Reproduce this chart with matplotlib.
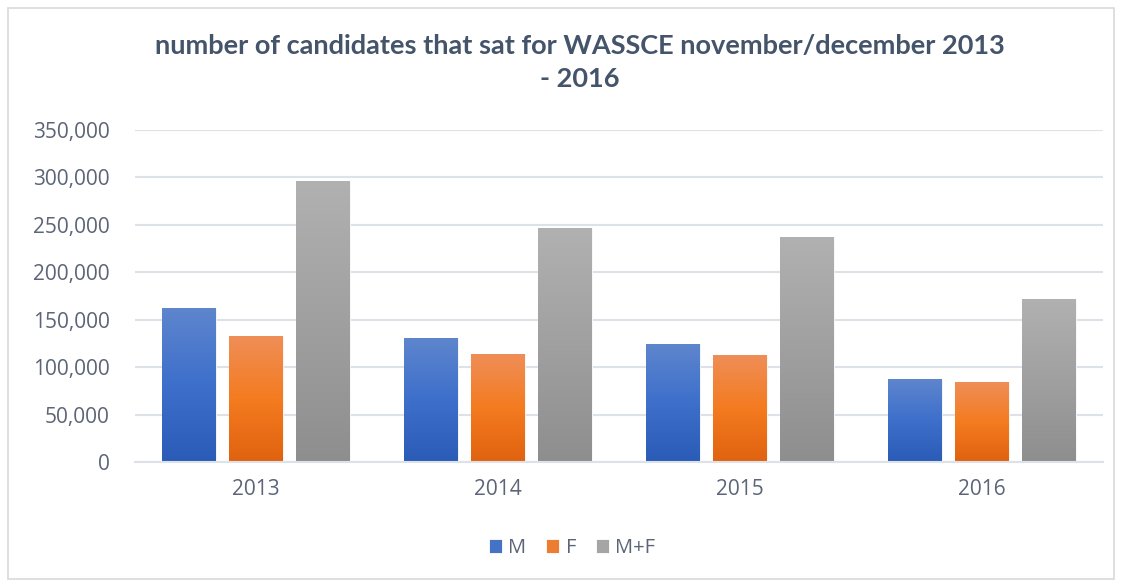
import matplotlib as mpl
mpl.use('Agg')

import matplotlib.pyplot as plt
from matplotlib.colors import LinearSegmentedColormap
from matplotlib.patches import Rectangle
from matplotlib.ticker import FuncFormatter
import numpy


# %% data
years = ['2013', '2014', '2015', '2016']
series_names = ['M', 'F', 'M+F']
male   = [162600, 131000, 124700, 87800]
female = [132800, 113500, 112400, 84000]
total  = [296500, 246300, 237500, 172100]

title = 'number of candidates that sat for WASSCE november/december 2013\n- 2016'

# %% style
colors = ['#4472C4', '#ED7D31', '#A5A5A5']
grads = [['#2A5BB7', '#3D6FCB', '#5F86CD'],
         ['#E0620F', '#F47B20', '#EF8E57'],
         ['#8E8E8E', '#A0A0A0', '#B1B1B1']]
text_col = '#5B6577'
grid_col = '#DDE1E8'

plt.rcParams['font.family'] = ['Open Sans', 'DejaVu Sans']

fig = plt.figure(figsize=(11.22, 5.82), dpi=100)
ax = fig.add_axes([0.1203, 0.2062, 0.8627, 0.5704])

x = numpy.arange(len(years))
width = 0.223
step = 0.276

gradient = numpy.linspace(0, 1, 256).reshape(-1, 1)

for i, vals in enumerate([male, female, total]):
    bars = ax.bar(x + (i - 1) * step, vals, width, color=colors[i],
                  edgecolor='white', linewidth=0.6, label=series_names[i], zorder=2)
    cmap = LinearSegmentedColormap.from_list('g%d' % i, grads[i])
    for b in bars:
        x0, y0 = b.get_x(), b.get_y()
        im = ax.imshow(gradient, cmap=cmap, aspect='auto', origin='lower',
                       extent=[x0, x0 + b.get_width(), y0, y0 + b.get_height()],
                       zorder=2.5)
        im.set_clip_path(b)

ax.set_xlim(-0.5, len(years) - 0.5)
ax.set_ylim(0, 350000)
ax.set_xticks(x)
ax.set_xticklabels(years)
ax.set_yticks(numpy.arange(0, 350001, 50000))
ax.yaxis.set_major_formatter(FuncFormatter(lambda v, p: '{:,.0f}'.format(v)))

ax.tick_params(axis='both', length=0, labelsize=15, colors=text_col)
ax.tick_params(axis='y', pad=18)
ax.tick_params(axis='x', pad=12)

ax.grid(axis='y', color=grid_col, linewidth=1.5, zorder=0)
ax.set_axisbelow(True)
for s in ['top', 'right', 'left']:
    ax.spines[s].set_visible(False)
ax.spines['bottom'].set_color(grid_col)
ax.spines['bottom'].set_linewidth(1.5)

fig.text(0.517, 0.893, title, ha='center', va='center', fontsize=19.5,
         fontweight='bold', color='#44546A', linespacing=1.45,
         family=['Lato', 'DejaVu Sans'])

ax.legend(loc='center', bbox_to_anchor=(0.51, 1 - 0.942), bbox_transform=fig.transFigure,
          ncol=3, frameon=False, fontsize=14.5, labelcolor=text_col,
          handlelength=0.65, handleheight=0.65, handletextpad=0.3, columnspacing=1.0)

fig.patches.append(Rectangle((0.007, 0.005), 0.986, 0.982, transform=fig.transFigure,
                             fill=False, edgecolor='#D9D9D9', linewidth=1.2))

plt.savefig('out.png', dpi=100)
